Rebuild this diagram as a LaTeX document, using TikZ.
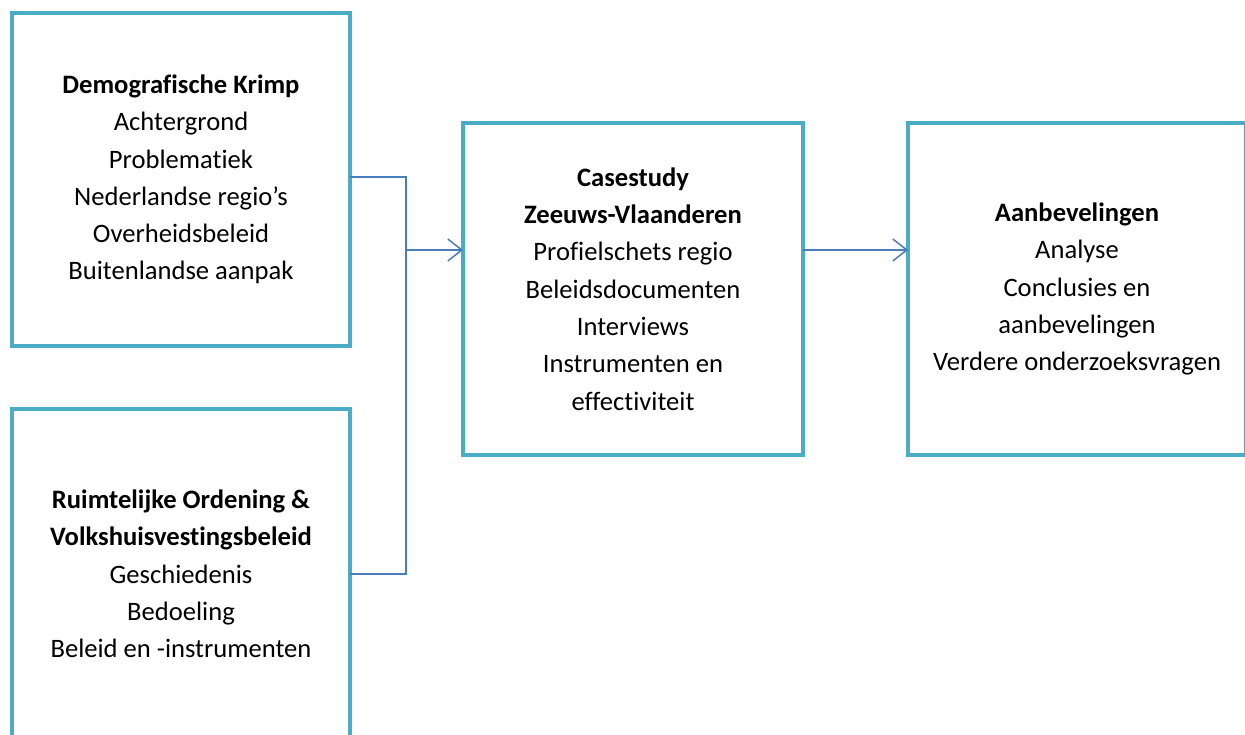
\documentclass[tikz,border=0pt]{standalone}
\usepackage{fontspec}
\setmainfont[Ligatures=NoCommon]{Carlito}
\usetikzlibrary{arrows.meta}
\definecolor{boxc}{HTML}{4BACC6}
\definecolor{linec}{HTML}{4A7EBB}
\begin{document}
\begin{tikzpicture}[x=1pt,y=-1pt,
  box/.style={draw=boxc, line width=4pt, outer sep=0pt, inner sep=0pt, align=center,
    font=\fontsize{26.6}{37.3}\selectfont},
  conn/.style={draw=linec, line width=1.5pt},
  arr/.style={conn, -{Straight Barb[length=14pt,width=22pt,line width=1.5pt]}}]
\fill[white] (0,0) rectangle (1245,735);
\useasboundingbox (0,0) rectangle (1245,735);
\node[box, minimum width=338pt, minimum height=333pt] (b1) at (181,179.5)
  {\textbf{Demografische Krimp}\\Achtergrond\\Problematiek\\Nederlandse regio’s\\Overheidsbeleid\\Buitenlandse aanpak};
\node[box, minimum width=338pt, minimum height=330pt] (b2) at (181,574)
  {\textbf{Ruimtelijke Ordening \&}\\\textbf{Volkshuisvestingsbeleid}\\Geschiedenis\\Bedoeling\\Beleid en -instrumenten};
\node[box, minimum width=340pt, minimum height=332pt] (b3) at (633,289)
  {\textbf{Casestudy}\\\textbf{Zeeuws-Vlaanderen}\\Profielschets regio\\Beleidsdocumenten\\Interviews\\Instrumenten en\\effectiviteit};
\node[box, minimum width=338pt, minimum height=332pt] (b4) at (1077,289)
  {\textbf{Aanbevelingen}\\Analyse\\Conclusies en\\aanbevelingen\\Verdere onderzoeksvragen};
\coordinate (j) at (406,250);
\coordinate (t) at (350,177);
\draw[conn] (t) -- (j |- t) -- (j |- b2.east) -- (b2.east);
\draw[arr] (j) -- (j -| b3.west);
\draw[arr] (b3.east |- j) -- (b4.west |- j);
\end{tikzpicture}
\end{document}
